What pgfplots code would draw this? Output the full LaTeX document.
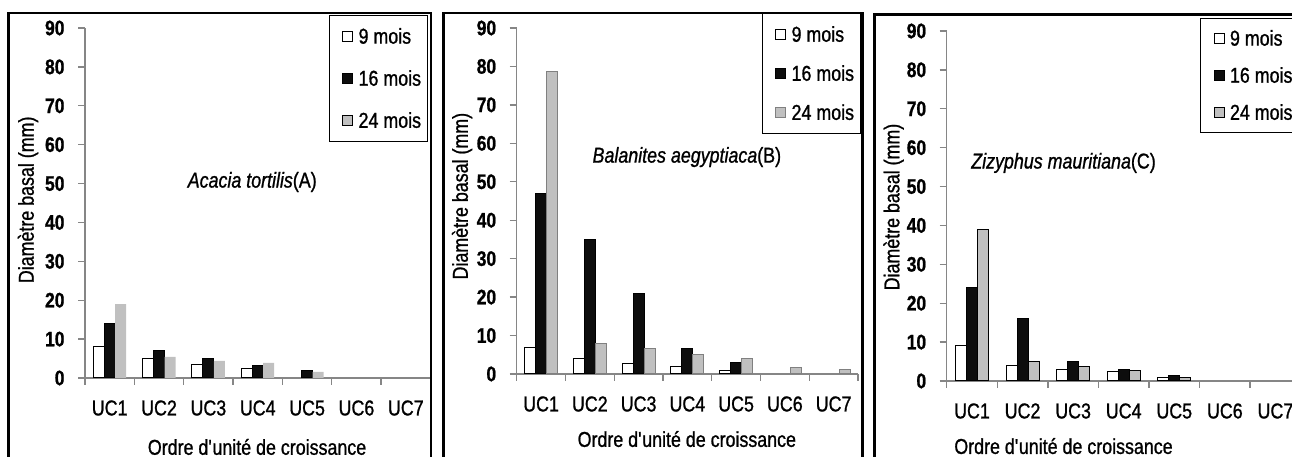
\documentclass[border=0pt]{standalone}
\usepackage{fontspec}
\setmainfont{Liberation Sans}[FakeStretch=0.83, FakeBold=1]
\usepackage{pgfplots}
\pgfplotsset{compat=1.18}
\definecolor{axgray}{RGB}{134,134,134}
\definecolor{lgray}{RGB}{192,192,192}
\definecolor{blk}{RGB}{13,13,13}
\definecolor{edgegray}{RGB}{128,128,128}
\newcommand\fs{\fontsize{21.5}{24}\selectfont}

\pgfplotsset{
 panel/.style={
  scale only axis, anchor=south west,
  ymin=0, ymax=90, ytick={0,10,...,90},
  xmin=-0.5, xmax=6.5,
  xtick={-0.5,0.5,...,6.5}, xticklabels={},
  extra x ticks={0,1,...,6},
  extra x tick labels={UC1,UC2,UC3,UC4,UC5,UC6,UC7},
  extra x tick style={major tick length=0pt},
  axis x line*=bottom, axis y line*=left,
  axis line style={draw=axgray, line width=1.3pt, -},
  tick style={draw=axgray, line width=1.3pt},
  tick align=outside, major tick length=7pt,
  ybar=0pt, bar width=11pt,
  /pgf/number format/assume math mode=true,
  yticklabel style={font=\fontsize{21}{22}\selectfont\bfseries, anchor=east, xshift=-10pt},
  xticklabel style={font=\fs, anchor=center, yshift=-30pt},
  label style={font=\fs},
  xlabel={Ordre d\textquotesingle unité de croissance},
  ylabel={Diamètre basal (mm)},
  legend cell align=left,
  legend image code/.code={\path (-8pt,0) (14pt,0); \draw[#1] (0pt,-5pt) rectangle (10pt,5pt);},
  legend style={draw=black, line width=1pt, fill=white, font=\fs,
     inner xsep=5pt, inner ysep=11pt, row sep=22pt, nodes={inner sep=1.5pt}},
 },
 s9/.style={fill=white, draw=black, line width=1pt},
 s16/.style={fill=blk, draw=black, line width=1pt},
}

% Acacia tortilis (A)
\pgfplotstableread{
x y
0 8
1 5
2 3.5
3 2.4
}\Anine
\pgfplotstableread{
x y
0 14
1 7
2 5
3 3.1
4 2
}\Asixteen
\pgfplotstableread{
x y
0 19
1 5.4
2 4.4
3 3.9
4 1.6
}\Atwentyfour
% Balanites aegyptiaca (B)
\pgfplotstableread{
x y
0 7
1 4
2 2.8
3 2
4 1
}\Bnine
\pgfplotstableread{
x y
0 47
1 35
2 21
3 6.6
4 2.9
}\Bsixteen
\pgfplotstableread{
x y
0 78.7
1 8
2 6.6
3 5
4 4
5 1.8
6 1.2
}\Btwentyfour
% Zizyphus mauritiana (C)
\pgfplotstableread{
x y
0 9
1 4
2 3
3 2.4
4 0.9
}\Cnine
\pgfplotstableread{
x y
0 24
1 16
2 5
3 2.9
4 1.3
}\Csixteen
\pgfplotstableread{
x y
0 39
1 5
2 3.6
3 2.6
4 0.9
}\Ctwentyfour

\begin{document}
\begin{tikzpicture}[x=1pt,y=1pt]
\useasboundingbox (0,0) rectangle (1292,457);
\clip (0,0) rectangle (1292,457);

\begin{axis}[panel, at={(85pt,79pt)}, width=345.5pt, height=350pt,
  ylabel style={at={(axis description cs:-0.165,0.509)}, anchor=center},
  xlabel style={at={(axis description cs:0.498,-0.197)}, anchor=center},
  legend style={at={(axis description cs:0.993,1.037)}, anchor=north east}]
\addplot[s9] table {\Anine};
\addplot[s16] table {\Asixteen};
\addplot[fill=lgray, draw=none] table {\Atwentyfour};
\legend{9 mois,16 mois,24 mois}
\node[font=\fs] at (axis description cs:0.484,0.56) {\textit{Acacia tortilis}(A)};
\end{axis}

\begin{axis}[panel, at={(516.7pt,83pt)}, width=341.3pt, height=346pt,
  ylabel style={at={(axis description cs:-0.160,0.514)}, anchor=center},
  xlabel style={at={(axis description cs:0.4985,-0.188)}, anchor=center},
  legend style={at={(axis description cs:1.009,1.043)}, anchor=north east, row sep=19pt}]
\addplot[s9] table {\Bnine};
\addplot[s16] table {\Bsixteen};
\addplot[fill=lgray, draw=edgegray, line width=1pt] table {\Btwentyfour};
\legend{9 mois,16 mois,24 mois}
\node[font=\fs] at (axis description cs:0.4985,0.627) {\textit{Balanites aegyptiaca}(B)};
\end{axis}

\begin{axis}[panel, at={(946.7pt,76pt)}, width=354pt, height=350pt,
  ylabel style={at={(axis description cs:-0.150,0.497)}, anchor=center},
  xlabel style={at={(axis description cs:0.33,-0.186)}, anchor=center},
  legend style={at={(axis description cs:0.7155,1.037)}, anchor=north west, row sep=17pt, inner ysep=10pt}]
\addplot[s9] table {\Cnine};
\addplot[s16] table {\Csixteen};
\addplot[fill=lgray, draw=black, line width=1pt] table {\Ctwentyfour};
\legend{9 mois,16 mois,24 mois}
\node[font=\fs] at (axis description cs:0.33,0.623) {\textit{Zizyphus mauritiana}(C)};
\end{axis}

\draw[line width=2.7pt] (8.3,-20) -- (8.3,444) -- (431,444) -- (431,-20);
\draw[line width=2.7pt] (443.5,-20) -- (443.5,444) -- (862.3,444) -- (862.3,-20);
\draw[line width=3pt] (874.5,-20) -- (874.5,442) -- (1300,442);
\end{tikzpicture}
\end{document}
